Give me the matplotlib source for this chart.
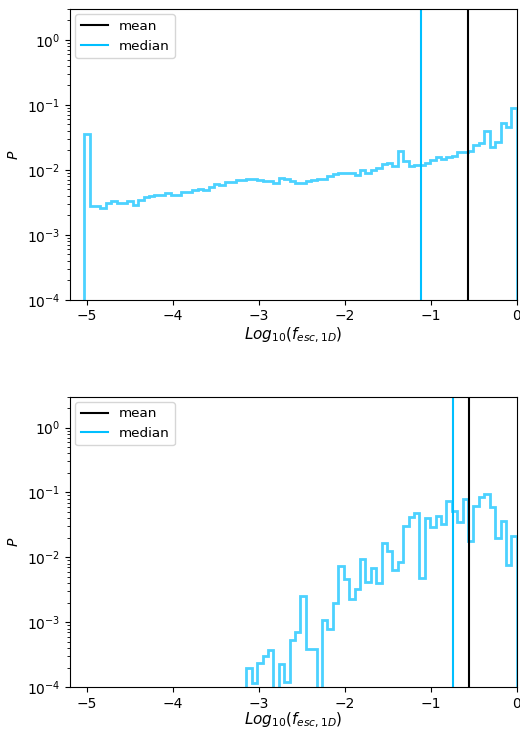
import matplotlib as mpl
mpl.use("Agg")
import matplotlib.pyplot as plt
import numpy as np

# bin edges shared by both panels (log10 of escape fraction)
edges = np.linspace(-5.035, 0, 81)

# top panel: P per bin, all 80 bins
top_vals = [0.036, 0.00282, 0.00273, 0.00256, 0.00307, 0.00326, 0.00307, 0.00314,
            0.00337, 0.00292, 0.00345, 0.00385, 0.00393, 0.00407, 0.00407, 0.00443,
            0.00407, 0.00407, 0.00448, 0.00464, 0.00498, 0.0051, 0.00481, 0.00553,
            0.0061, 0.00588, 0.0066, 0.0066, 0.00702, 0.0071, 0.00728, 0.00735,
            0.0071, 0.00685, 0.00668, 0.00638, 0.00743, 0.00717, 0.00685, 0.00622,
            0.00638, 0.00685, 0.00693, 0.00717, 0.00735, 0.00809, 0.00877, 0.00899,
            0.00908, 0.00908, 0.00847, 0.0101, 0.00908, 0.0101, 0.01074, 0.01237,
            0.01295, 0.01165, 0.0193, 0.0139, 0.01153, 0.01178, 0.01207, 0.01264,
            0.01425, 0.01563, 0.01456, 0.01585, 0.01641, 0.01914, 0.01914, 0.0198,
            0.0245, 0.02566, 0.0393, 0.0223, 0.0272, 0.0521, 0.0464, 0.0899]
top_mean = -0.563
top_median = -1.113

# bottom panel: first 30 bins are empty
bot_first = 30
bot_vals = [1.97e-4, 1.15e-4, 2.35e-4, 2.98e-4, 3.69e-4, 0, 2.27e-4, 1.22e-4,
            5.4e-4, 7.1e-4, 2.53e-3, 3.92e-4, 3.92e-4, 0, 1.10e-3, 7.9e-4,
            2.0e-3, 7.4e-3, 4.7e-3, 2.3e-3, 3.3e-3, 9.35e-3, 4.2e-3, 6.8e-3,
            3.97e-3, 0.0169, 0.01257, 6.3e-3, 8.5e-3, 0.0306, 0.0413, 0.0476,
            4.74e-3, 0.0398, 0.0296, 0.0437, 0.0325, 0.0746, 0.0523, 0.0346,
            0.0793, 0.0179, 0.0611, 0.0861, 0.0948, 0.059, 0.0202, 0.0366,
            7.6e-3, 0.0214]
bot_mean = -0.56
bot_median = -0.747

hist_color = "deepskyblue"

fig, axes = plt.subplots(2, 1, figsize=(5.2, 7.31), dpi=100)
fig.subplots_adjust(left=0.1346, right=0.9937, top=0.9877, bottom=0.0598, hspace=0.333)

panels = [(top_vals, 0, top_mean, top_median, 1.5),
          (bot_vals, bot_first, bot_mean, bot_median, 0)]

for ax, (vals, first, mn, md, pad) in zip(axes, panels):
    w = np.zeros(len(edges) - 1)
    w[first:first + len(vals)] = vals
    centers = 0.5 * (edges[:-1] + edges[1:])
    ax.hist(centers, bins=edges, weights=w, histtype="step", color=hist_color,
            alpha=0.7, lw=2)
    ax.axvline(mn, color="black", lw=1.5, label="mean")
    ax.axvline(md, color=hist_color, lw=1.5, label="median")
    ax.set_yscale("log")
    ax.set_ylim(1e-4, 3)
    ax.set_xlim(-5.2, 0)
    ax.set_xlabel(r"$Log_{10}(f_{esc,1D})$", fontsize=11, labelpad=pad)
    ax.set_ylabel(r"$P$")
    ax.legend(loc="upper left", fontsize=9.7, borderaxespad=0.4)

fig.savefig("out.png")
